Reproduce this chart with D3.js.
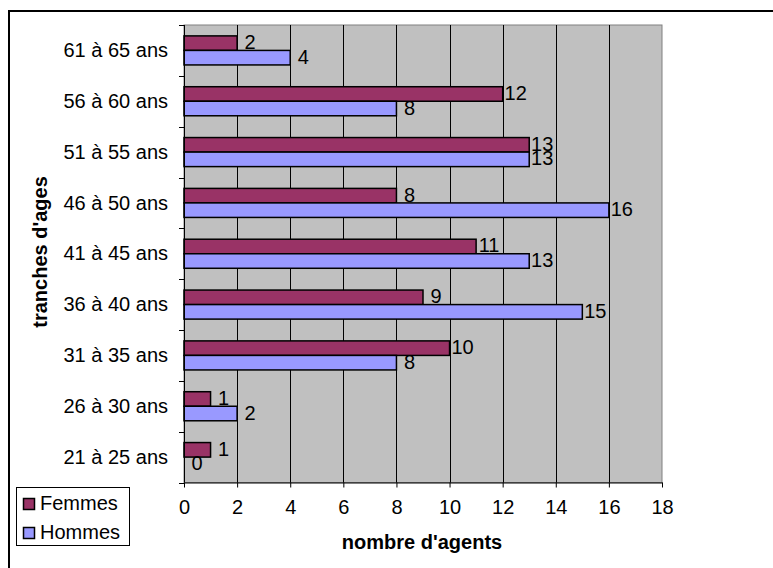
<!DOCTYPE html>
<html>
<head>
<meta charset="utf-8">
<script src="https://cdn.jsdelivr.net/npm/d3@7"></script>
<style>
  html, body { margin: 0; padding: 0; background: #fff; }
  svg { display: block; font-family: Arial, "Liberation Sans", sans-serif; }
</style>
</head>
<body>
<svg id="chart" width="773" height="568"></svg>
<script>
// Age brackets, listed from youngest to oldest
const categories = ["21 à 25 ans", "26 à 30 ans", "31 à 35 ans", "36 à 40 ans", "41 à 45 ans",
                    "46 à 50 ans", "51 à 55 ans", "56 à 60 ans", "61 à 65 ans"];
const femmes = [1, 1, 10, 9, 11, 8, 13, 12, 2];
const hommes = [0, 2, 8, 15, 13, 16, 13, 8, 4];
const seriesNames = ["Femmes", "Hommes"];
const xTicks = [0, 2, 4, 6, 8, 10, 12, 14, 16, 18];

const colors = { Femmes: "#993366", Hommes: "#9999FF" };
const FONT = "Arial, 'Liberation Sans', sans-serif";
const FS = 20;

const svg = d3.select("#chart");

// Outer frame (extends past the right and bottom edges)
svg.append("rect")
  .attr("x", 9).attr("y", 11)
  .attr("width", 820).attr("height", 620)
  .attr("fill", "#fff").attr("stroke", "#000").attr("stroke-width", 2);

const plot = { left: 184, right: 662, top: 25, bottom: 482.5 };

const x = d3.scaleLinear().domain([0, 18]).range([plot.left, plot.right]);
const y = d3.scaleBand()
  .domain(categories.slice().reverse())
  .range([plot.top, plot.bottom]);
const ySub = d3.scaleBand()
  .domain(seriesNames)
  .range([0, y.bandwidth()])
  .paddingInner(0)
  .paddingOuter(0.75);

// Plot background
svg.append("rect")
  .attr("x", plot.left).attr("y", plot.top)
  .attr("width", plot.right - plot.left).attr("height", plot.bottom - plot.top)
  .attr("fill", "#C0C0C0").attr("stroke", "#808080").attr("stroke-width", 1);

// Vertical gridlines
svg.append("g")
  .selectAll("line")
  .data(xTicks.filter(t => t > 0 && t < 18))
  .join("line")
  .attr("x1", d => Math.round(x(d)) + 0.5).attr("x2", d => Math.round(x(d)) + 0.5)
  .attr("y1", plot.top).attr("y2", plot.bottom)
  .attr("stroke", "#000").attr("stroke-width", 1);

// Bars
const rows = categories.map((c, i) => ({ cat: c, Femmes: femmes[i], Hommes: hommes[i] }));
const groups = svg.append("g").selectAll("g")
  .data(rows)
  .join("g")
  .attr("transform", d => `translate(0,${y(d.cat)})`);

groups.selectAll("rect")
  .data(d => seriesNames.map(s => ({ s, v: d[s] })))
  .join("rect")
  .attr("x", x(0))
  .attr("y", d => ySub(d.s))
  .attr("width", d => x(d.v) - x(0))
  .attr("height", ySub.bandwidth())
  .attr("fill", d => colors[d.s])
  .attr("stroke", "#000")
  .attr("stroke-width", 1.5);

// Value labels, centred just past each bar end
groups.selectAll("text")
  .data(d => seriesNames.map(s => ({ s, v: d[s] })))
  .join("text")
  .attr("x", d => x(d.v) + 13)
  .attr("y", d => ySub(d.s) + ySub.bandwidth() / 2 + 6)
  .attr("text-anchor", "middle")
  .attr("font-size", FS)
  .attr("fill", "#000")
  .text(d => d.v);

// Y axis (categories)
const yAxis = d3.axisLeft(y).tickSize(0).tickPadding(16);
const yg = svg.append("g").attr("transform", `translate(${plot.left},0)`).call(yAxis);
yg.select(".domain").remove();
yg.selectAll("text").attr("font-size", FS).attr("font-family", FONT).attr("fill", "#000").attr("dy", "0.33em");
svg.append("line")
  .attr("x1", plot.left + 0.5).attr("x2", plot.left + 0.5)
  .attr("y1", plot.top).attr("y2", plot.bottom)
  .attr("stroke", "#000");
// Ticks at category boundaries
const bounds = y.domain().map(c => y(c)).concat([plot.bottom]);
svg.append("g").selectAll("line")
  .data(bounds)
  .join("line")
  .attr("x1", plot.left - 5).attr("x2", plot.left)
  .attr("y1", d => Math.round(d) + 0.5).attr("y2", d => Math.round(d) + 0.5)
  .attr("stroke", "#000");

// X axis
const xAxis = d3.axisBottom(x).tickValues(xTicks).tickSize(5).tickPadding(12).tickSizeOuter(0);
const xg = svg.append("g").attr("transform", `translate(0,${plot.bottom})`).call(xAxis);
xg.select(".domain").attr("stroke", "#000");
xg.selectAll(".tick line").attr("stroke", "#000");
xg.selectAll("text").attr("font-size", FS).attr("font-family", FONT).attr("fill", "#000");

// Axis titles
svg.append("text")
  .attr("x", 422).attr("y", 549)
  .attr("text-anchor", "middle")
  .attr("font-size", 20).attr("font-weight", "bold")
  .text("nombre d'agents");

svg.append("text")
  .attr("transform", "translate(47,252) rotate(-90)")
  .attr("text-anchor", "middle")
  .attr("font-size", 20).attr("font-weight", "bold")
  .text("tranches d'ages");

// Legend
const legend = svg.append("g");
legend.append("rect")
  .attr("x", 16.5).attr("y", 487.5).attr("width", 113).attr("height", 58)
  .attr("fill", "#fff").attr("stroke", "#000").attr("stroke-width", 1);
const items = legend.selectAll("g.item")
  .data(seriesNames)
  .join("g").attr("class", "item")
  .attr("transform", (d, i) => `translate(0,${498 + i * 29})`);
items.append("rect")
  .attr("x", 23.5).attr("y", 0.5).attr("width", 11).attr("height", 11)
  .attr("fill", d => colors[d]).attr("stroke", "#000").attr("stroke-width", 1.5);
items.append("text")
  .attr("x", 40).attr("y", 12)
  .attr("font-size", FS)
  .text(d => d);
</script>
</body>
</html>
